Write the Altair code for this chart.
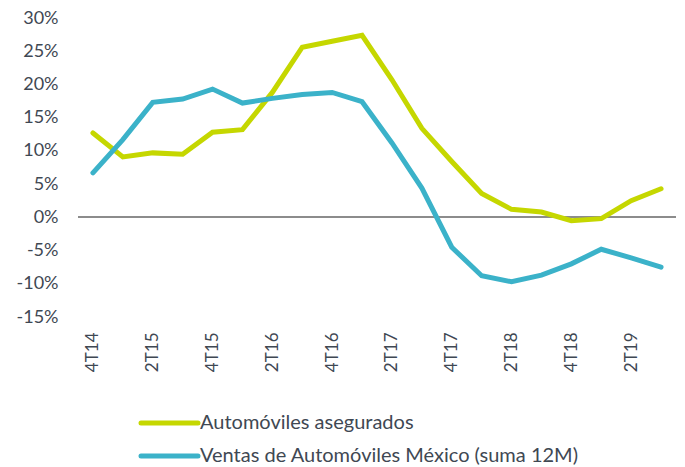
import altair as alt
import pandas as pd

quarters = ["4T14", "1T15", "2T15", "3T15", "4T15", "1T16", "2T16", "3T16", "4T16", "1T17",
            "2T17", "3T17", "4T17", "1T18", "2T18", "3T18", "4T18", "1T19", "2T19", "3T19"]
asegurados = [12.7, 9.1, 9.7, 9.5, 12.8, 13.2, 18.8, 25.6, 26.5, 27.4,
              20.7, 13.4, 8.4, 3.6, 1.2, 0.8, -0.5, -0.2, 2.5, 4.3]
ventas = [6.7, 11.7, 17.3, 17.8, 19.3, 17.2, 17.9, 18.5, 18.8, 17.4,
          11.2, 4.4, -4.5, -8.8, -9.7, -8.7, -7.0, -4.8, -6.1, -7.5]
series_names = ["Automóviles asegurados", "Ventas de Automóviles México (suma 12M)"]
colors = ["#c5d700", "#3bb2c9"]
tick_labels = quarters[::2]
y_ticks = list(range(-15, 31, 5))

rows = []
for i, q in enumerate(quarters):
    rows.append({"q": q, "i": i, "serie": series_names[0], "v": asegurados[i]})
    rows.append({"q": q, "i": i, "serie": series_names[1], "v": ventas[i]})
df = pd.DataFrame(rows)

FONT = "Lato"
TXT = "#3f4853"

x_axis = alt.Axis(values=tick_labels, labelAngle=270, labelAlign="right",
                  labelBaseline="middle", labelPadding=15, ticks=False,
                  domain=False, grid=False, labelFont=FONT, labelFontSize=17,
                  labelColor=TXT, labelOverlap=False)
y_axis = alt.Axis(values=y_ticks, labelExpr="datum.value + '%'", ticks=False,
                  domain=False, grid=False, labelPadding=20, labelFont=FONT,
                  labelFontSize=18, labelColor=TXT, labelOverlap=False, labelFlush=False,
                  labelBound=False)
y_scale = alt.Scale(domain=[-15, 30], nice=False, zero=False)

x_enc = alt.X("q:N", sort=quarters, title=None,
              scale=alt.Scale(type="point", padding=0.5), axis=x_axis)
y_enc = alt.Y("v:Q", title=None, scale=y_scale, axis=y_axis)

base = alt.Chart(df)
zero = base.mark_rule(color="#8c8c8c", strokeWidth=1.5).encode(
    y=alt.YDatum(0, type="quantitative", scale=y_scale, axis=y_axis, title=None)
)
lines = base.mark_line(strokeWidth=5, strokeCap="round", strokeJoin="miter").encode(
    x=x_enc, y=y_enc,
    color=alt.Color("serie:N", scale=alt.Scale(domain=series_names, range=colors), legend=None),
    order="i:Q",
)

layers = [zero, lines]
leg_y = [405, 438]
for k, name in enumerate(series_names):
    one = pd.DataFrame({"serie": [name]})
    layers.append(
        alt.Chart(one).mark_rule(color=colors[k], strokeWidth=5, strokeCap="round").encode(
            x=alt.value(63), x2=alt.value(120), y=alt.value(leg_y[k])
        )
    )
    layers.append(
        alt.Chart(one).mark_text(align="left", baseline="middle", font=FONT, fontSize=20,
                                 color=TXT).encode(
            x=alt.value(122), y=alt.value(leg_y[k]), text="serie:N"
        )
    )

chart = alt.layer(*layers).properties(
    width=598, height=299,
    autosize=alt.AutoSizeParams(type="none"),
    padding={"left": 70, "top": 10, "right": 1, "bottom": 150},
).configure_view(stroke=None)

chart.save("out.html", embed_options={"renderer": "svg", "actions": False})
